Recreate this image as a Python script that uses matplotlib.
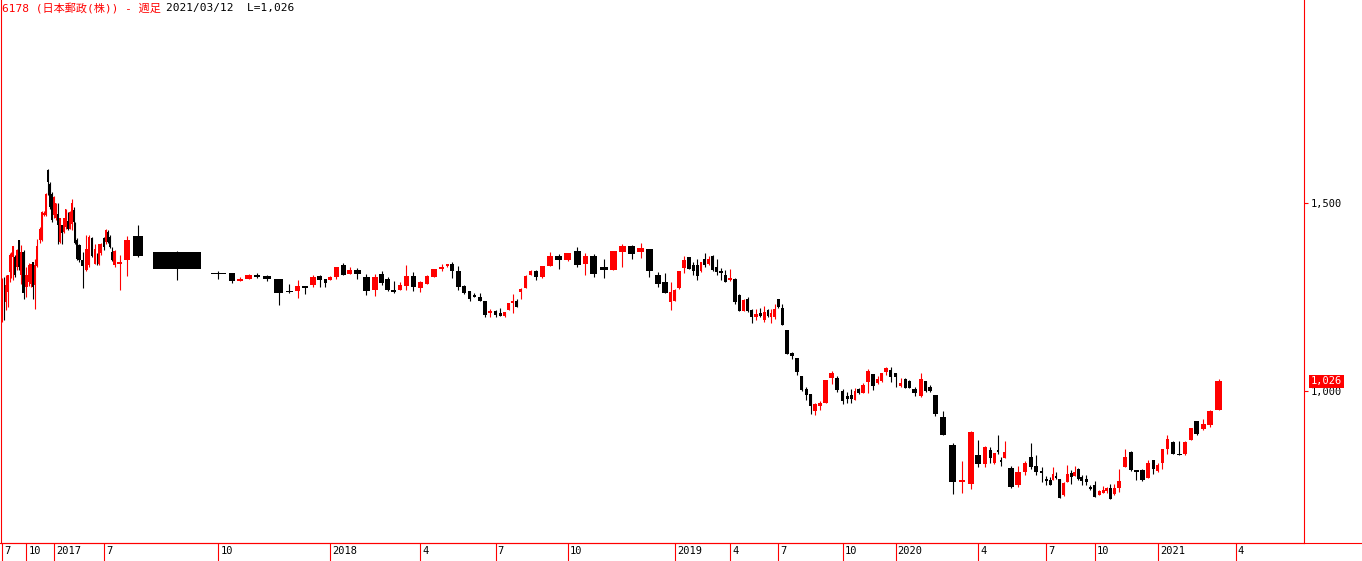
import numpy as np
import matplotlib
matplotlib.use('Agg')
import matplotlib.pyplot as plt
from matplotlib.lines import Line2D

# weekly candles, 6178 Japan Post Holdings, 2016/07 .. 2021/03/12
opens = [1190, 1259, 1237, 1264, 1317, 1320, 1357, 1357, 1330, 1401,
         1308, 1370, 1277, 1290, 1286, 1344, 1281, 1332, 1401, 1401,
         1468, 1468, 1587, 1552, 1525, 1468, 1459, 1472, 1397, 1441,
         1424, 1437, 1452, 1432, 1445, 1481, 1446, 1401, 1388, 1348,
         1321, 1335, 1408, 1339, 1361, 1339, 1366, 1406, 1397, 1424,
         1410, 1370, 1335, 1338, 1348, 1412, 1370, 1312, 1313, 1293,
         1298, 1310, 1306, 1298, 1266, 1267, 1279, 1283, 1306, 1297,
         1295, 1303, 1335, 1312, 1322, 1304, 1268, 1311, 1297, 1270,
         1270, 1279, 1306, 1275, 1284, 1304, 1324, 1332, 1338, 1319,
         1279, 1266, 1255, 1251, 1240, 1208, 1213, 1208, 1199, 1215,
         1235, 1240, 1264, 1275, 1310, 1320, 1304, 1333, 1359, 1348,
         1372, 1337, 1359, 1330, 1323, 1369, 1385, 1370, 1377, 1308,
         1290, 1237, 1240, 1275, 1328, 1357, 1335, 1335, 1319, 1350,
         1339, 1359, 1329, 1320, 1308, 1295, 1298, 1255, 1213, 1246,
         1215, 1196, 1208, 1188, 1215, 1196, 1196, 1244, 1222, 1162,
         1102, 1087, 1040, 1006, 992, 948, 961, 967, 1034, 1035,
         1001, 988, 990, 976, 1006, 996, 1023, 1046, 1021, 1028,
         1050, 1056, 1047, 1014, 1032, 1027, 1006, 987, 1027, 1012,
         990, 931, 857, 759, 754, 830, 807, 843, 809, 843,
         818, 823, 795, 750, 785, 825, 801, 788, 767, 763,
         763, 774, 765, 723, 759, 783, 774, 793, 772, 765,
         746, 749, 723, 730, 735, 743, 726, 741, 799, 838,
         790, 790, 770, 817, 788, 809, 847, 865, 834, 832,
         871, 920, 899, 910, 951]
highs = [1300, 1304, 1308, 1308, 1366, 1370, 1385, 1361, 1379, 1401,
         1388, 1375, 1330, 1340, 1339, 1344, 1352, 1404, 1437, 1480,
         1480, 1526, 1590, 1555, 1530, 1520, 1499, 1499, 1460, 1441,
         1460, 1485, 1477, 1480, 1512, 1490, 1450, 1406, 1392, 1370,
         1415, 1414, 1410, 1392, 1366, 1392, 1395, 1410, 1430, 1428,
         1414, 1383, 1374, 1361, 1412, 1442, 1372, 1318, 1313, 1304,
         1312, 1314, 1308, 1299, 1284, 1295, 1280, 1308, 1308, 1297,
         1306, 1330, 1341, 1330, 1327, 1311, 1311, 1319, 1303, 1292,
         1290, 1335, 1317, 1292, 1310, 1324, 1338, 1338, 1343, 1332,
         1282, 1266, 1260, 1260, 1240, 1218, 1215, 1222, 1211, 1235,
         1258, 1246, 1273, 1308, 1322, 1323, 1332, 1370, 1364, 1366,
         1384, 1366, 1364, 1350, 1373, 1390, 1388, 1393, 1377, 1317,
         1313, 1289, 1271, 1319, 1359, 1357, 1342, 1350, 1343, 1366,
         1359, 1361, 1350, 1326, 1323, 1324, 1302, 1258, 1244, 1249,
         1218, 1218, 1222, 1226, 1218, 1218, 1231, 1246, 1231, 1162,
         1104, 1087, 1040, 1012, 992, 969, 974, 1030, 1053, 1040,
         1006, 998, 1006, 1008, 1009, 1022, 1059, 1046, 1040, 1049,
         1064, 1064, 1047, 1035, 1035, 1029, 1011, 1049, 1027, 1016,
         990, 947, 861, 814, 895, 870, 854, 852, 836, 883,
         825, 867, 801, 801, 814, 863, 830, 799, 774, 772,
         797, 785, 765, 759, 803, 790, 801, 796, 777, 777,
         750, 761, 737, 747, 746, 752, 752, 792, 846, 840,
         790, 793, 816, 818, 810, 846, 883, 867, 867, 867,
         901, 920, 925, 950, 1032]
lows = [1185, 1188, 1215, 1224, 1290, 1300, 1295, 1304, 1321, 1321,
        1286, 1246, 1250, 1280, 1277, 1246, 1219, 1330, 1395, 1398,
        1465, 1465, 1521, 1485, 1450, 1460, 1455, 1392, 1395, 1392,
        1420, 1432, 1428, 1430, 1428, 1440, 1392, 1348, 1343, 1274,
        1318, 1330, 1357, 1339, 1335, 1335, 1362, 1375, 1390, 1395,
        1380, 1345, 1330, 1268, 1306, 1357, 1295, 1298, 1288, 1293,
        1298, 1301, 1293, 1228, 1261, 1248, 1257, 1277, 1277, 1277,
        1295, 1299, 1310, 1312, 1299, 1255, 1253, 1282, 1267, 1261,
        1270, 1268, 1266, 1264, 1284, 1304, 1320, 1329, 1301, 1270,
        1259, 1240, 1251, 1240, 1197, 1197, 1197, 1199, 1197, 1215,
        1208, 1224, 1246, 1275, 1308, 1295, 1302, 1333, 1324, 1346,
        1329, 1308, 1304, 1302, 1321, 1330, 1352, 1354, 1304, 1277,
        1261, 1215, 1240, 1271, 1315, 1324, 1308, 1295, 1317, 1330,
        1335, 1320, 1308, 1295, 1289, 1293, 1231, 1213, 1213, 1211,
        1181, 1190, 1196, 1184, 1196, 1181, 1193, 1222, 1175, 1098,
        1085, 1043, 1001, 975, 939, 936, 950, 967, 1019, 997,
        966, 969, 969, 976, 992, 996, 996, 1003, 1019, 1025,
        1043, 1025, 1012, 1012, 1009, 1009, 988, 985, 998, 997,
        934, 883, 726, 730, 740, 799, 799, 809, 805, 834,
        801, 823, 743, 746, 777, 794, 777, 759, 750, 750,
        763, 765, 716, 721, 759, 754, 774, 763, 750, 750,
        737, 717, 723, 728, 730, 714, 723, 732, 799, 788,
        763, 762, 769, 779, 785, 792, 834, 832, 831, 831,
        870, 883, 896, 905, 949]
closes = [1298, 1237, 1281, 1308, 1361, 1365, 1385, 1308, 1375, 1330,
          1370, 1261, 1308, 1335, 1339, 1277, 1335, 1385, 1432, 1477,
          1474, 1524, 1556, 1490, 1454, 1516, 1499, 1441, 1459, 1421,
          1459, 1485, 1432, 1477, 1500, 1450, 1395, 1352, 1348, 1332,
          1379, 1410, 1359, 1379, 1339, 1391, 1392, 1383, 1428, 1397,
          1383, 1348, 1372, 1343, 1402, 1359, 1325, 1311, 1293, 1298,
          1308, 1304, 1298, 1261, 1263, 1279, 1275, 1304, 1295, 1288,
          1304, 1330, 1310, 1322, 1312, 1267, 1304, 1288, 1268, 1264,
          1281, 1306, 1277, 1289, 1306, 1324, 1330, 1338, 1320, 1277,
          1261, 1244, 1251, 1240, 1202, 1213, 1202, 1199, 1211, 1235,
          1240, 1224, 1271, 1306, 1320, 1304, 1332, 1359, 1348, 1366,
          1335, 1359, 1311, 1323, 1372, 1386, 1364, 1381, 1319, 1284,
          1261, 1264, 1268, 1319, 1348, 1324, 1320, 1306, 1343, 1336,
          1351, 1322, 1317, 1314, 1290, 1302, 1237, 1213, 1242, 1213,
          1196, 1206, 1199, 1211, 1199, 1208, 1218, 1224, 1175, 1098,
          1094, 1052, 1003, 990, 961, 966, 967, 1030, 1049, 1003,
          974, 979, 979, 1001, 994, 1017, 1053, 1014, 1031, 1047,
          1061, 1038, 1037, 1022, 1009, 1009, 996, 1032, 1000, 1000,
          939, 883, 759, 764, 892, 807, 852, 823, 836, 838,
          811, 839, 745, 785, 809, 799, 785, 783, 762, 750,
          779, 770, 716, 756, 779, 772, 785, 765, 761, 759,
          739, 717, 735, 737, 743, 714, 743, 761, 824, 790,
          784, 763, 810, 792, 803, 846, 872, 832, 831, 865,
          901, 886, 912, 947, 1026]
# weekly volume (10M shares) -> candle width
volume = [2.5, 1.8, 1.65, 1.85, 1.85, 1.65, 1.8, 1.85, 1.85, 2.0,
          2.35, 2.85, 3.0, 2.3, 1.8, 2.0, 2.0, 2.7, 2.5, 1.65,
          1.5, 2.15, 2.5, 2.0, 1.7, 1.85, 2.0, 2.15, 2.5, 1.7,
          1.5, 2.3, 2.5, 2.0, 1.5, 1.5, 1.8, 2.0, 2.85, 4.0,
          3.15, 2.5, 3.0, 2.85, 2.0, 1.65, 2.35, 2.7, 2.0, 1.5,
          2.0, 2.3, 3.65, 6.0, 9.0, 13.0, 64.0, 20.0, 8.0, 7.8,
          8.5, 8.7, 11.4, 11.8, 9.1, 7.6, 7.4, 7.9, 6.5, 4.6,
          5.1, 6.9, 6.9, 6.6, 8.5, 9.4, 7.5, 6.0, 6.0, 6.2,
          6.0, 6.8, 7.6, 6.5, 6.4, 8.0, 7.0, 4.5, 5.45, 6.5,
          5.55, 4.85, 5.1, 5.15, 5.4, 5.5, 5.0, 4.5, 4.0, 4.0,
          4.0, 4.0, 4.5, 5.0, 5.0, 5.6, 7.2, 8.4, 8.9, 9.5,
          9.1, 7.5, 9.25, 10.35, 9.05, 9.15, 9.0, 9.2, 8.5, 7.9,
          7.0, 4.4, 3.6, 5.0, 4.9, 4.6, 4.6, 3.5, 3.5, 4.0,
          4.0, 4.0, 4.0, 4.5, 4.5, 4.5, 5.0, 4.5, 4.0, 4.0,
          4.0, 4.5, 4.5, 3.5, 3.0, 3.5, 4.0, 3.5, 4.0, 5.0,
          5.0, 5.0, 5.0, 4.5, 4.0, 4.5, 5.5, 6.0, 6.0, 5.5,
          5.0, 4.5, 3.5, 3.5, 4.0, 4.75, 5.5, 4.75, 4.0, 4.0,
          4.5, 5.0, 5.0, 5.0, 4.0, 4.5, 6.5, 5.5, 4.0, 4.5,
          6.5, 9.0, 10.0, 9.0, 8.0, 7.5, 6.0, 4.5, 3.75, 3.0,
          2.75, 5.0, 7.5, 7.5, 6.0, 5.5, 5.5, 5.0, 4.5, 3.5,
          2.75, 3.0, 3.75, 4.0, 4.0, 3.5, 3.5, 3.5, 4.0, 4.5,
          4.0, 4.5, 4.5, 3.5, 3.5, 4.0, 4.0, 5.5, 6.0, 5.5,
          6.0, 6.0, 5.5, 4.5, 4.5, 5.0, 5.0, 6.0, 6.5, 5.4,
          5.5, 6.5, 6.5, 8.0, 9.0]

# first candle of each labelled month (index past the end = future week)
tick_idx = [0, 12, 25, 47, 57, 70, 83, 96, 109, 122,
            135, 147, 160, 172, 185, 198, 211, 224, 237]
tick_labels = ['7', '10', '2017', '7', '10', '2018', '4', '7', '10', '2019',
               '4', '7', '10', '2020', '4', '7', '10', '2021', '4']
price_ticks = [1000, 1500]
last_date = '2021/03/12'

assert len(opens) == len(highs) == len(lows) == len(closes) == len(volume)

RED = '#ff0000'
plt.rcParams['font.family'] = ['DejaVu Sans Mono', 'Noto Sans CJK JP']

W, H = 1362, 561
fig = plt.figure(figsize=(W / 100, H / 100), dpi=100)
ax = fig.add_axes([1 / W, 18 / H, 1303 / W, 543 / H])

o = np.array(opens, float)
h = np.array(highs, float)
l = np.array(lows, float)
c = np.array(closes, float)
vol = np.array(volume)

# equivolume x axis: each week takes a slot as wide as its volume
n_future = max(tick_idx) + 1 - len(vol)
vol_ext = np.concatenate([vol, np.full(max(n_future, 0), np.median(vol) + 0.5)])
edges = np.concatenate([[0], np.cumsum(vol_ext)])
xc = edges[:-1] + vol_ext / 2
x = xc[:len(vol)]

col = np.where(c > o, RED, 'black')
body_w = np.maximum(vol * 0.75, 1.6)
ax.vlines(x, l, h, colors=col, lw=0.8)
ax.bar(x, np.maximum(np.abs(c - o), 2.5), width=body_w,
       bottom=np.minimum(o, c), color=col, linewidth=0)

ax.set_xlim(0, edges[len(vol)] * 1.066)
ax.set_ylim(596, 2040)

# right price axis
ax.yaxis.tick_right()
ax.set_yticks(price_ticks)
ax.set_yticklabels([f'{v:,}' for v in price_ticks])
ax.tick_params(axis='y', length=3, width=0.8, color=RED, pad=2,
               labelsize=7.5, labelcolor='black')

# month ticks along the bottom, label to the right of the line
ax.set_xticks(xc[tick_idx])
ax.set_xticklabels([])
ax.tick_params(axis='x', length=13.5, width=0.8, color=RED, direction='out')
for t, lab in zip(xc[tick_idx], tick_labels):
    ax.annotate(lab, (t, 0), xycoords=ax.get_xaxis_transform(),
                xytext=(1.5, -2.5), textcoords='offset points',
                ha='left', va='top', fontsize=7.5)

for side in ['left', 'right', 'bottom']:
    ax.spines[side].set_color(RED)
    ax.spines[side].set_linewidth(0.8)
ax.spines['top'].set_visible(False)
fig.add_artist(Line2D([0, 1], [18 / H, 18 / H], color=RED, lw=0.8))

# last price marker
ax.annotate(f'{closes[-1]:,}', xy=(1, closes[-1]), xycoords=ax.get_yaxis_transform(),
            xytext=(5, 0), textcoords='offset points', ha='left', va='center',
            color='white', fontsize=7.5, annotation_clip=False,
            bbox=dict(boxstyle='square,pad=0.15', fc=RED, ec='none'))

fig.text(2 / W, 1 - 3 / H, '6178 (日本郵政(株)) - 週足', color=RED,
         fontsize=8, ha='left', va='top')
fig.text(166 / W, 1 - 3 / H, f'{last_date}  L={closes[-1]:,}', color='black',
         fontsize=8, ha='left', va='top')

fig.savefig('out.png', dpi=100)
